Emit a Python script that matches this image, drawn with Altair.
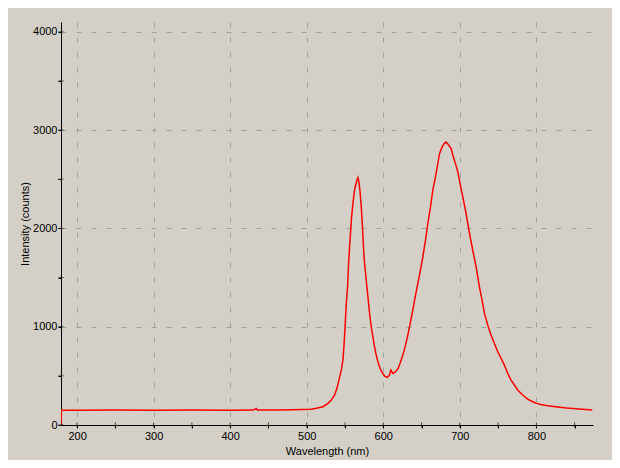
import altair as alt
import pandas as pd

wavelength = [179, 179.6, 200, 250, 300, 350, 400, 430, 434, 436, 438, 460, 480, 495, 505,
              512.6, 521.3, 527.8, 532.2, 536.5, 539.5, 542.1, 545.2, 547.3, 548.6,
              549.9, 551.7, 553.4, 554.7, 556.0, 557.3, 558.6, 560.4, 562.1, 563.9, 565.6, 566.9,
              568.2, 569.5, 571.3, 572.6, 573.9, 575.2, 576.9, 578.6, 580.4, 582.1, 584.3, 586.5,
              588.6, 590.8, 593.0, 595.2, 597.8, 601.7, 605.2, 608.2, 609.9, 612.6, 616.0, 619.5,
              622.6, 625.6, 629.1, 632.1, 635.2, 638.6, 641.7, 645.2, 648.6, 651.7, 655.2, 658.2,
              661.7, 664.7, 668.2, 671.3, 673.5, 677.0, 680.0, 682.2, 685.6, 688.7, 690.9, 694.3,
              697.4, 700.4, 703.9, 707.4, 710.4, 713.5, 716.9, 721.3, 723.5, 725.6, 729.1, 732.2,
              736.5, 740.9, 745.2, 749.6, 753.9, 758.2, 762.6, 766.9, 771.3, 775.6, 782.1, 788.7,
              795.2, 803.9, 814.7, 827.8, 840, 856, 873]
intensity = [0, 150, 150, 152, 150, 152, 150, 152, 168, 150, 152, 152, 155, 158, 160,
             170, 186, 220, 254, 305, 373, 457, 559, 661, 796,
             965, 1237, 1406, 1643, 1812, 1965, 2117, 2253, 2371, 2439, 2490, 2517,
             2473, 2388, 2219, 2050, 1846, 1677, 1542, 1406, 1270, 1135, 999, 897,
             796, 711, 643, 592, 542, 498, 484, 508, 559, 525, 542, 576,
             643, 711, 813, 915, 1033, 1169, 1304, 1440, 1575, 1711, 1880, 2050,
             2219, 2388, 2524, 2659, 2761, 2829, 2869, 2879, 2846, 2812, 2744, 2659,
             2575, 2456, 2321, 2185, 2050, 1914, 1778, 1609, 1507, 1406, 1270, 1135,
             1016, 914, 830, 745, 677, 610, 525, 457, 407, 356, 305, 264,
             237, 210, 196, 183, 172, 163, 152]

x_ticks = list(range(200, 851, 50))
y_ticks = list(range(0, 4001, 500))

df = pd.DataFrame({"wavelength": wavelength, "intensity": intensity})

FONT = "Liberation Sans"
X_DOMAIN = [179, 874]
Y_DOMAIN = [0, 4100]
common = dict(
    labelFont=FONT, labelFontSize=11, labelColor="#000000",
    titleFont=FONT, titleFontSize=11, titleColor="#000000", titleFontWeight="normal",
    domainColor="#000000", domainWidth=1, tickColor="#000000", tickWidth=1, tickSize=3,
    grid=True, gridColor="#a0a0a0", gridDash=[5, 10], gridWidth=1, format="d",
)

x_axis = alt.Axis(
    values=x_ticks, title="Wavelength (nm)",
    labelExpr="datum.value % 100 === 0 ? datum.label : ''",
    gridOpacity={"condition": {"test": "datum.value % 100 !== 0", "value": 0}, "value": 1},
    labelPadding=2, titlePadding=4, **common,
)
y_axis = alt.Axis(
    values=y_ticks, title="Intensity (counts)",
    labelExpr="datum.value % 1000 === 0 ? datum.label : ''",
    gridOpacity={"condition": {"test": "datum.value % 1000 !== 0 || datum.value === 0", "value": 0}, "value": 1},
    labelPadding=1, titlePadding=2, **common,
)
x_scale = alt.Scale(domain=X_DOMAIN, nice=False, zero=False)
y_scale = alt.Scale(domain=Y_DOMAIN, nice=False)

line = alt.Chart(df).mark_line(color="#ff0000", strokeWidth=1.5, clip=True).encode(
    x=alt.X("wavelength:Q", scale=x_scale, axis=x_axis),
    y=alt.Y("intensity:Q", scale=y_scale, axis=y_axis),
)

# inner halves of the axis ticks (the reference's ticks cross the axis line)
ytick_in = alt.Chart(pd.DataFrame({"intensity": y_ticks})).mark_tick(
    color="#000000", size=5, thickness=1
).encode(
    y=alt.Y("intensity:Q", scale=y_scale, axis=y_axis),
    x=alt.value(0),
)
xtick_in = alt.Chart(pd.DataFrame({"wavelength": x_ticks})).mark_tick(
    color="#000000", size=5, thickness=1
).encode(
    x=alt.X("wavelength:Q", scale=x_scale, axis=x_axis),
    y=alt.value(403),
)

chart = alt.layer(line, ytick_in, xtick_in).properties(
    width=532, height=403, background="#D4D0C8",
    padding={"left": 53, "top": 14, "right": 19, "bottom": 35},
    autosize=alt.AutoSizeParams(type="none"),
).configure_view(stroke=None)

chart.save("out.html", embed_options={"renderer": "svg", "actions": False})
